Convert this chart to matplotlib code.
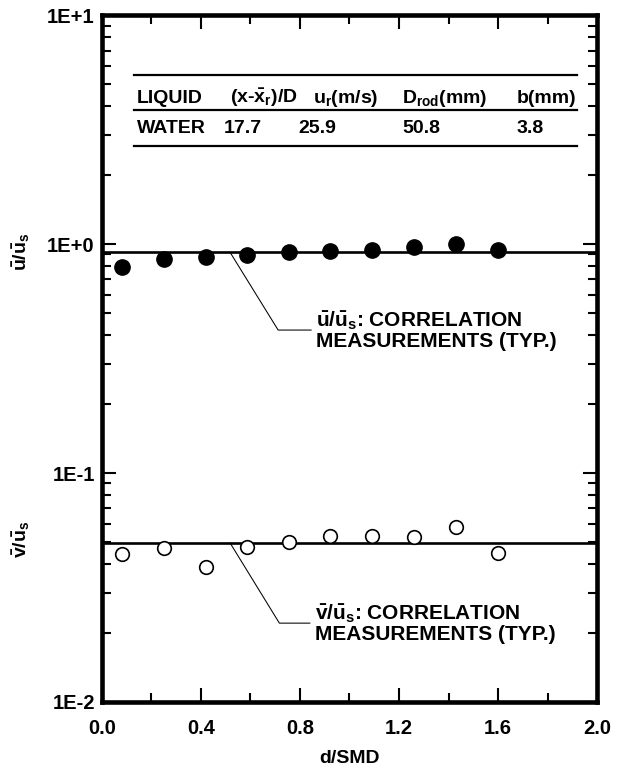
import numpy as np
import matplotlib
matplotlib.use('Agg')
from matplotlib import pyplot as plt
from matplotlib.ticker import FixedLocator, LogLocator, NullFormatter

plt.rcParams['font.family'] = ['Liberation Sans', 'DejaVu Sans']
plt.rcParams['font.weight'] = 'bold'
plt.rcParams['mathtext.fontset'] = 'custom'
plt.rcParams['mathtext.rm'] = 'Liberation Sans:bold'
plt.rcParams['mathtext.it'] = 'Liberation Sans:bold'
plt.rcParams['mathtext.bf'] = 'Liberation Sans:bold'
plt.rcParams['mathtext.sf'] = 'Liberation Sans:bold'

# data
d_smd = [0.08, 0.25, 0.42, 0.585, 0.755, 0.92, 1.09, 1.26, 1.43, 1.60]
u_ratio = [0.796, 0.860, 0.875, 0.895, 0.926, 0.935, 0.942, 0.967, 0.997, 0.942]
v_ratio = [0.0441, 0.0469, 0.0388, 0.0474, 0.0498, 0.0532, 0.0532, 0.0527, 0.0579, 0.0446]
u_corr = 0.920
v_corr = 0.0495

x_ticks = [0.0, 0.4, 0.8, 1.2, 1.6, 2.0]
y_ticks = [1e-2, 1e-1, 1e0, 1e1]
y_ticklabels = ['1E-2', '1E-1', '1E+0', '1E+1']

table_head = ['LIQUID', r'(x-$\bar{\mathrm{x}}_\mathrm{r}$)/D', r'u$_\mathrm{r}$(m/s)',
              r'D$_\mathrm{rod}$(mm)', 'b(mm)']
table_row = ['WATER', '17.7', '25.9', '50.8', '3.8']

fig = plt.figure(figsize=(6.36, 7.71), dpi=100)
ax = fig.add_axes([0.16, 0.0895, 0.779, 0.891])

ax.axhline(u_corr, color='black', lw=1.9)
ax.axhline(v_corr, color='black', lw=1.9)
ax.plot(d_smd, u_ratio, 'o', color='black', ms=11, ls='none')
ax.plot(d_smd, v_ratio, 'o', mfc='white', mec='black', mew=1.2, ms=9.8, ls='none')

ax.set_yscale('log')
ax.set_xlim(0, 2.0)
ax.set_ylim(1e-2, 1e1)
ax.set_xticks(x_ticks)
ax.set_xticklabels(['%.1f' % t for t in x_ticks])
ax.xaxis.set_minor_locator(FixedLocator(np.arange(0, 2.01, 0.2)))
ax.set_yticks(y_ticks)
ax.set_yticklabels(y_ticklabels)
ax.yaxis.set_minor_locator(LogLocator(base=10, subs=np.arange(2, 10), numticks=20))
ax.yaxis.set_minor_formatter(NullFormatter())
ax.tick_params(which='both', direction='in', top=True, right=True, width=1.5,
               labelsize=14.5)
ax.tick_params(which='major', length=10)
ax.tick_params(which='minor', length=6.5)
ax.tick_params(axis='x', which='both', pad=12)
ax.tick_params(axis='y', which='both', pad=5)
for s in ax.spines.values():
    s.set_linewidth(3.3)

ax.set_xlabel('d/SMD', fontsize=14, fontweight='bold', labelpad=9)
fig.text(0.033, 0.6735, r'$\bar{\mathrm{u}}/\bar{\mathrm{u}}_\mathrm{s}$', rotation=90,
         fontsize=14, ha='center', va='center')
fig.text(0.033, 0.301, r'$\bar{\mathrm{v}}/\bar{\mathrm{u}}_\mathrm{s}$', rotation=90,
         fontsize=14, ha='center', va='center')

# table in upper part
tr = ax.transAxes
for yy in [0.9127, 0.8617, 0.8093]:
    ax.plot([0.066, 0.96], [yy, yy], color='black', lw=1.6, transform=tr)
head_x = [0.0707, 0.259, 0.427, 0.606, 0.838]
row_x = [0.0707, 0.2455, 0.397, 0.606, 0.838]
for xx, t in zip(head_x, table_head):
    ax.text(xx, 0.8787, t, transform=tr, fontsize=14, va='center', ha='left')
for xx, t in zip(row_x, table_row):
    ax.text(xx, 0.835, t, transform=tr, fontsize=14, va='center', ha='left')

# leader lines and notes
u_bend = 0.421
v_bend = 0.0221
ax.plot([0.518, 0.712, 0.845], [u_corr, u_bend, u_bend], color='black', lw=0.75)
ax.text(0.866, u_bend, r'$\bar{\mathrm{u}}/\bar{\mathrm{u}}_\mathrm{s}$: CORRELATION' + '\nMEASUREMENTS (TYP.)',
        fontsize=15, va='center', ha='left', linespacing=0.95)
ax.plot([0.518, 0.717, 0.84], [v_corr, v_bend, v_bend], color='black', lw=0.75)
ax.text(0.861, v_bend, r'$\bar{\mathrm{v}}/\bar{\mathrm{u}}_\mathrm{s}$: CORRELATION' + '\nMEASUREMENTS (TYP.)',
        fontsize=15, va='center', ha='left', linespacing=0.95)

plt.savefig('out.png', dpi=100)
